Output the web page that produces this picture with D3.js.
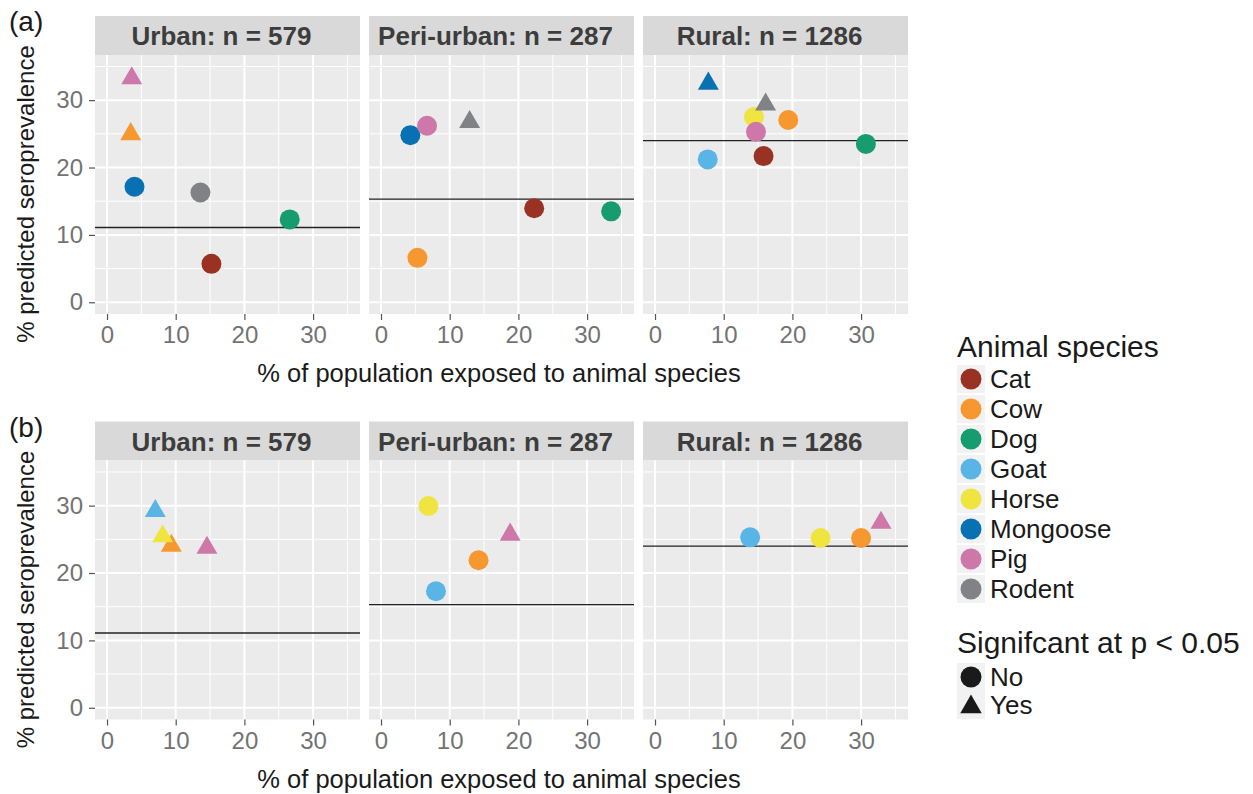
<!DOCTYPE html>
<html>
<head>
<meta charset="utf-8">
<script src="https://cdnjs.cloudflare.com/ajax/libs/d3/7.8.5/d3.min.js"></script>
<style>
body { margin: 0; background: #fff; }
text { font-family: "Liberation Sans", Arial, sans-serif; }
</style>
</head>
<body>
<div id="mainDiv"></div>
<script>
'use strict';

// categories
var species = ["Cat", "Cow", "Dog", "Goat", "Horse", "Mongoose", "Pig", "Rodent"];
var speciesColors = ["#993222", "#F7972F", "#179C6F", "#58B5E5", "#EFE440", "#0871B3", "#CD78A8", "#818285"];
var settings = ["Urban", "Peri-urban", "Rural"];
var sampleSizes = [579, 287, 1286];
var meanSeroprev = [11.1, 15.3, 24.0];
var signifLevels = ["No", "Yes"];
var xTicks = [0, 10, 20, 30];
var yTicks = [0, 10, 20, 30];

// panel (a)
var aSetting  = ["Urban", "Urban", "Urban", "Urban", "Urban", "Urban",
                 "Peri-urban", "Peri-urban", "Peri-urban", "Peri-urban", "Peri-urban", "Peri-urban",
                 "Rural", "Rural", "Rural", "Rural", "Rural", "Rural", "Rural", "Rural"];
var aSpecies  = ["Cat", "Cow", "Dog", "Mongoose", "Pig", "Rodent",
                 "Cat", "Cow", "Dog", "Mongoose", "Pig", "Rodent",
                 "Cat", "Cow", "Dog", "Goat", "Horse", "Mongoose", "Pig", "Rodent"];
var aExposure = [15.2, 3.45, 26.6, 4.0, 3.6, 13.6,
                 22.3, 5.3, 33.5, 4.27, 6.7, 12.9,
                 15.8, 19.4, 30.7, 7.67, 14.4, 7.76, 14.7, 16.1];
var aSeroprev = [5.7, 24.95, 12.3, 17.15, 33.25, 16.3,
                 13.95, 6.6, 13.5, 24.8, 26.2, 26.75,
                 21.7, 27.05, 23.5, 21.2, 27.5, 32.45, 25.3, 29.35];
var aSignif   = ["No", "Yes", "No", "No", "Yes", "No",
                 "No", "No", "No", "No", "No", "Yes",
                 "No", "No", "No", "No", "No", "Yes", "No", "Yes"];

// panel (b)
var bSetting  = ["Urban", "Urban", "Urban", "Urban",
                 "Peri-urban", "Peri-urban", "Peri-urban", "Peri-urban",
                 "Rural", "Rural", "Rural", "Rural"];
var bSpecies  = ["Cow", "Goat", "Horse", "Pig",
                 "Cow", "Goat", "Horse", "Pig",
                 "Cow", "Goat", "Horse", "Pig"];
var bExposure = [9.36, 7.03, 8.1, 14.55,
                 14.2, 8.0, 6.9, 18.8,
                 30.0, 13.85, 24.1, 32.9];
var bSeroprev = [24.05, 29.2, 25.45, 23.75,
                 21.9, 17.3, 29.95, 25.7,
                 25.2, 25.3, 25.2, 27.45];
var bSignif   = ["Yes", "Yes", "Yes", "Yes",
                 "No", "No", "No", "Yes",
                 "No", "No", "No", "Yes"];

var myApp = {};

myApp.facetLeft = [95, 369, 643];
myApp.facetWidth = 265;
myApp.stripHeight = 39;
myApp.panelHeight = 259;

myApp.color = d3.scaleOrdinal().domain(species).range(speciesColors);
myApp.shape = d3.scaleOrdinal().domain(signifLevels).range([d3.symbolCircle, d3.symbolTriangle]);

myApp.buildRows = function (setting, sp, ex, se, sig)
{
    var rows = [];
    for (var i = 0; i < setting.length; i++)
    {
        rows.push({ setting: setting[i], species: sp[i], x: ex[i], y: se[i], signif: sig[i] });
    }
    return rows;
}

myApp.appendSvg = function (element, w, h)
{
    return d3.select(element).append("svg")
        .attr("width", w)
        .attr("height", h);
}

myApp.drawPoints = function (g, data, x, y)
{
    g.selectAll("path.pt")
        .data(data)
        .enter()
        .append("path")
            .attr("class", "pt")
            .attr("transform", function (d) { return "translate(" + x(d.x) + "," + y(d.y) + ")"; })
            .attr("d", function (d) {
                return d3.symbol().type(myApp.shape(d.signif)).size(d.signif === "Yes" ? 190 : 314)();
            })
            .attr("fill", function (d) { return myApp.color(d.species); });
}

myApp.drawRow = function (svg, label, top, data)
{
    var panelTop = top + myApp.stripHeight;
    var panelBottom = panelTop + myApp.panelHeight;
    var y = d3.scaleLinear().domain([-1.74, 36.7]).range([panelBottom, panelTop]);

    svg.append("text")
        .attr("x", 9)
        .attr("y", top + 15)
        .attr("font-size", "28px")
        .attr("fill", "#1a1a1a")
        .text(label);

    settings.forEach(function (s, i)
    {
        var left = myApp.facetLeft[i];
        var x = d3.scaleLinear().domain([-1.75, 36.83]).range([left, left + myApp.facetWidth]);
        var g = svg.append("g");

        // strip
        g.append("rect")
            .attr("x", left).attr("y", top)
            .attr("width", myApp.facetWidth).attr("height", myApp.stripHeight)
            .attr("fill", "#D9D9D9");
        g.append("text")
            .attr("x", left + myApp.facetWidth / 2 - 6)
            .attr("y", top + 29)
            .attr("text-anchor", "middle")
            .attr("font-size", "26px")
            .attr("font-weight", "bold")
            .attr("fill", "#3d3d3d")
            .text(s + ": n = " + sampleSizes[i]);

        // panel
        g.append("rect")
            .attr("x", left).attr("y", panelTop)
            .attr("width", myApp.facetWidth).attr("height", myApp.panelHeight)
            .attr("fill", "#EBEBEB");

        var minor = [5, 15, 25, 35];
        g.selectAll("line.vminor").data(minor).enter().append("line")
            .attr("x1", x).attr("x2", x)
            .attr("y1", panelTop).attr("y2", panelBottom)
            .attr("stroke", "#fff").attr("stroke-width", 1);
        g.selectAll("line.hminor").data(minor).enter().append("line")
            .attr("y1", y).attr("y2", y)
            .attr("x1", left).attr("x2", left + myApp.facetWidth)
            .attr("stroke", "#fff").attr("stroke-width", 1);
        g.selectAll("line.vmajor").data(xTicks).enter().append("line")
            .attr("x1", x).attr("x2", x)
            .attr("y1", panelTop).attr("y2", panelBottom)
            .attr("stroke", "#fff").attr("stroke-width", 2);
        g.selectAll("line.hmajor").data(yTicks).enter().append("line")
            .attr("y1", y).attr("y2", y)
            .attr("x1", left).attr("x2", left + myApp.facetWidth)
            .attr("stroke", "#fff").attr("stroke-width", 2);

        // mean seroprevalence line
        g.append("line")
            .attr("x1", left).attr("x2", left + myApp.facetWidth)
            .attr("y1", y(meanSeroprev[i])).attr("y2", y(meanSeroprev[i]))
            .attr("stroke", "#222").attr("stroke-width", 1.3);

        myApp.drawPoints(g, data.filter(function (d) { return d.setting === s; }), x, y);

        // x axis
        var xa = g.append("g")
            .attr("transform", "translate(0," + panelBottom + ")")
            .call(d3.axisBottom(x).tickValues(xTicks).tickSize(6).tickPadding(6));
        myApp.styleAxis(xa);

        if (i === 0)
        {
            var ya = g.append("g")
                .attr("transform", "translate(" + left + ",0)")
                .call(d3.axisLeft(y).tickValues(yTicks).tickSize(6).tickPadding(6));
            myApp.styleAxis(ya);
        }
    });

    svg.append("text")
        .attr("x", 499)
        .attr("y", panelBottom + 68)
        .attr("text-anchor", "middle")
        .attr("font-size", "25.5px")
        .attr("fill", "#1a1a1a")
        .text("% of population exposed to animal species");

    svg.append("text")
        .attr("transform", "translate(34," + (top + 178) + ") rotate(-90)")
        .attr("text-anchor", "middle")
        .attr("font-size", "24px")
        .attr("fill", "#1a1a1a")
        .text("% predicted seroprevalence");
}

myApp.styleAxis = function (a)
{
    a.select(".domain").remove();
    a.selectAll(".tick line").attr("stroke", "#555").attr("stroke-width", 1.2);
    a.selectAll(".tick text")
        .attr("font-size", "24px")
        .attr("font-family", "Liberation Sans, Arial, sans-serif")
        .attr("fill", "#737373");
}

myApp.drawLegend = function (svg)
{
    var lx = 957;
    var g = svg.append("g");

    g.append("text").attr("x", lx).attr("y", 357)
        .attr("font-size", "30px").attr("fill", "#1a1a1a")
        .text("Animal species");

    var rows = g.selectAll("g.sp").data(species).enter().append("g")
        .attr("transform", function (d, i) { return "translate(" + lx + "," + (379 + i * 30) + ")"; });
    rows.append("rect").attr("x", 0).attr("y", -14).attr("width", 28).attr("height", 28).attr("fill", "#F2F2F2");
    rows.append("circle").attr("cx", 14).attr("cy", 0).attr("r", 10.5)
        .attr("fill", function (d) { return myApp.color(d); });
    rows.append("text").attr("x", 33).attr("y", 9)
        .attr("font-size", "26px").attr("fill", "#1a1a1a")
        .text(function (d) { return d; });

    g.append("text").attr("x", lx).attr("y", 653)
        .attr("font-size", "30px").attr("fill", "#1a1a1a")
        .text("Signifcant at p < 0.05");

    var srows = g.selectAll("g.sg").data(signifLevels).enter().append("g")
        .attr("transform", function (d, i) { return "translate(" + lx + "," + (677 + i * 28) + ")"; });
    srows.append("rect").attr("x", 0).attr("y", -14).attr("width", 28).attr("height", 28).attr("fill", "#F2F2F2");
    srows.append("path")
        .attr("transform", function (d) { return "translate(14," + (d === "Yes" ? 2 : 0) + ")"; })
        .attr("d", function (d) { return d3.symbol().type(myApp.shape(d)).size(d === "Yes" ? 200 : 346)(); })
        .attr("fill", "#1a1a1a");
    srows.append("text").attr("x", 33).attr("y", 9)
        .attr("font-size", "26px").attr("fill", "#1a1a1a")
        .text(function (d) { return d; });
}

myApp.run = function ()
{
    var svg = myApp.appendSvg("#mainDiv", 1253, 794);
    myApp.drawRow(svg, "(a)", 16, myApp.buildRows(aSetting, aSpecies, aExposure, aSeroprev, aSignif));
    myApp.drawRow(svg, "(b)", 421.5, myApp.buildRows(bSetting, bSpecies, bExposure, bSeroprev, bSignif));
    myApp.drawLegend(svg);
}

window.onload = myApp.run;
</script>
</body>
</html>
